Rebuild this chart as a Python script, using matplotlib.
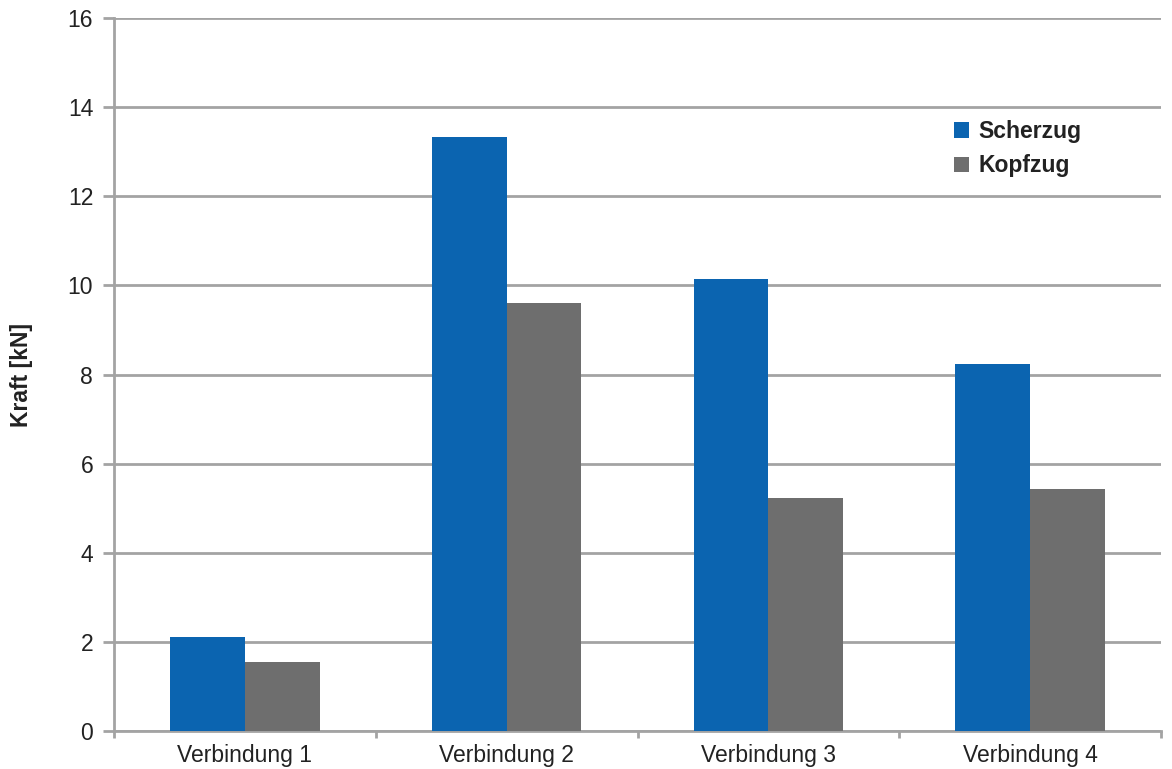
import matplotlib.pyplot as plt
import numpy as np

plt.rcParams['font.family'] = ['Liberation Sans', 'DejaVu Sans']

verbindungen = ["Verbindung 1", "Verbindung 2", "Verbindung 3", "Verbindung 4"]
scherzug = [2.1, 13.33, 10.15, 8.23]
kopfzug = [1.55, 9.6, 5.22, 5.42]
y_ticks = [0, 2, 4, 6, 8, 10, 12, 14, 16]

blau = "#0b64b0"
grau = "#6e6e6e"
linie = "#a3a3a3"
schrift = 16.5

fig = plt.figure(figsize=(11.72, 7.69), dpi=100)
ax = fig.add_axes([0.0973, 0.0494, 0.8933, 0.9272])

x = np.arange(len(verbindungen))
breite = 1 / 3.5  # Balkenbreite bei 150 % Abstand
ax.bar(x - breite / 2, scherzug, breite, color=blau, label="Scherzug", zorder=3)
ax.bar(x + breite / 2, kopfzug, breite, color=grau, label="Kopfzug", zorder=3)

ax.set_xlim(-0.5, len(verbindungen) - 0.5)
ax.set_ylim(0, 16)
ax.set_yticks(y_ticks)
ax.set_xticks(x)
ax.set_xticklabels(verbindungen)
ax.set_xticks(np.arange(len(verbindungen) + 1) - 0.5, minor=True)

ax.yaxis.grid(True, color=linie, linewidth=2, zorder=0)
for s in ["top", "right"]:
    ax.spines[s].set_visible(False)
for s in ["left", "bottom"]:
    ax.spines[s].set_color(linie)
    ax.spines[s].set_linewidth(2)

ax.tick_params(axis="y", length=8, width=2, color=linie, pad=7,
               labelsize=schrift, labelcolor="#222222")
ax.tick_params(axis="x", which="major", length=0, pad=9,
               labelsize=schrift, labelcolor="#222222")
ax.tick_params(axis="x", which="minor", length=5, width=2, color=linie)

ax.set_ylabel("Kraft [kN]", fontsize=schrift, fontweight="bold",
              color="#222222", va="center")
ax.yaxis.set_label_coords(-0.088, 0.5)

leg = ax.legend(loc="upper left", bbox_to_anchor=(0.783, 0.886), frameon=False,
                handlelength=0.65, handleheight=0.65, handletextpad=0.4,
                labelspacing=0.5, prop={"size": schrift, "weight": "bold"})
for t in leg.get_texts():
    t.set_color("#222222")

fig.savefig("out.png", dpi=100)
